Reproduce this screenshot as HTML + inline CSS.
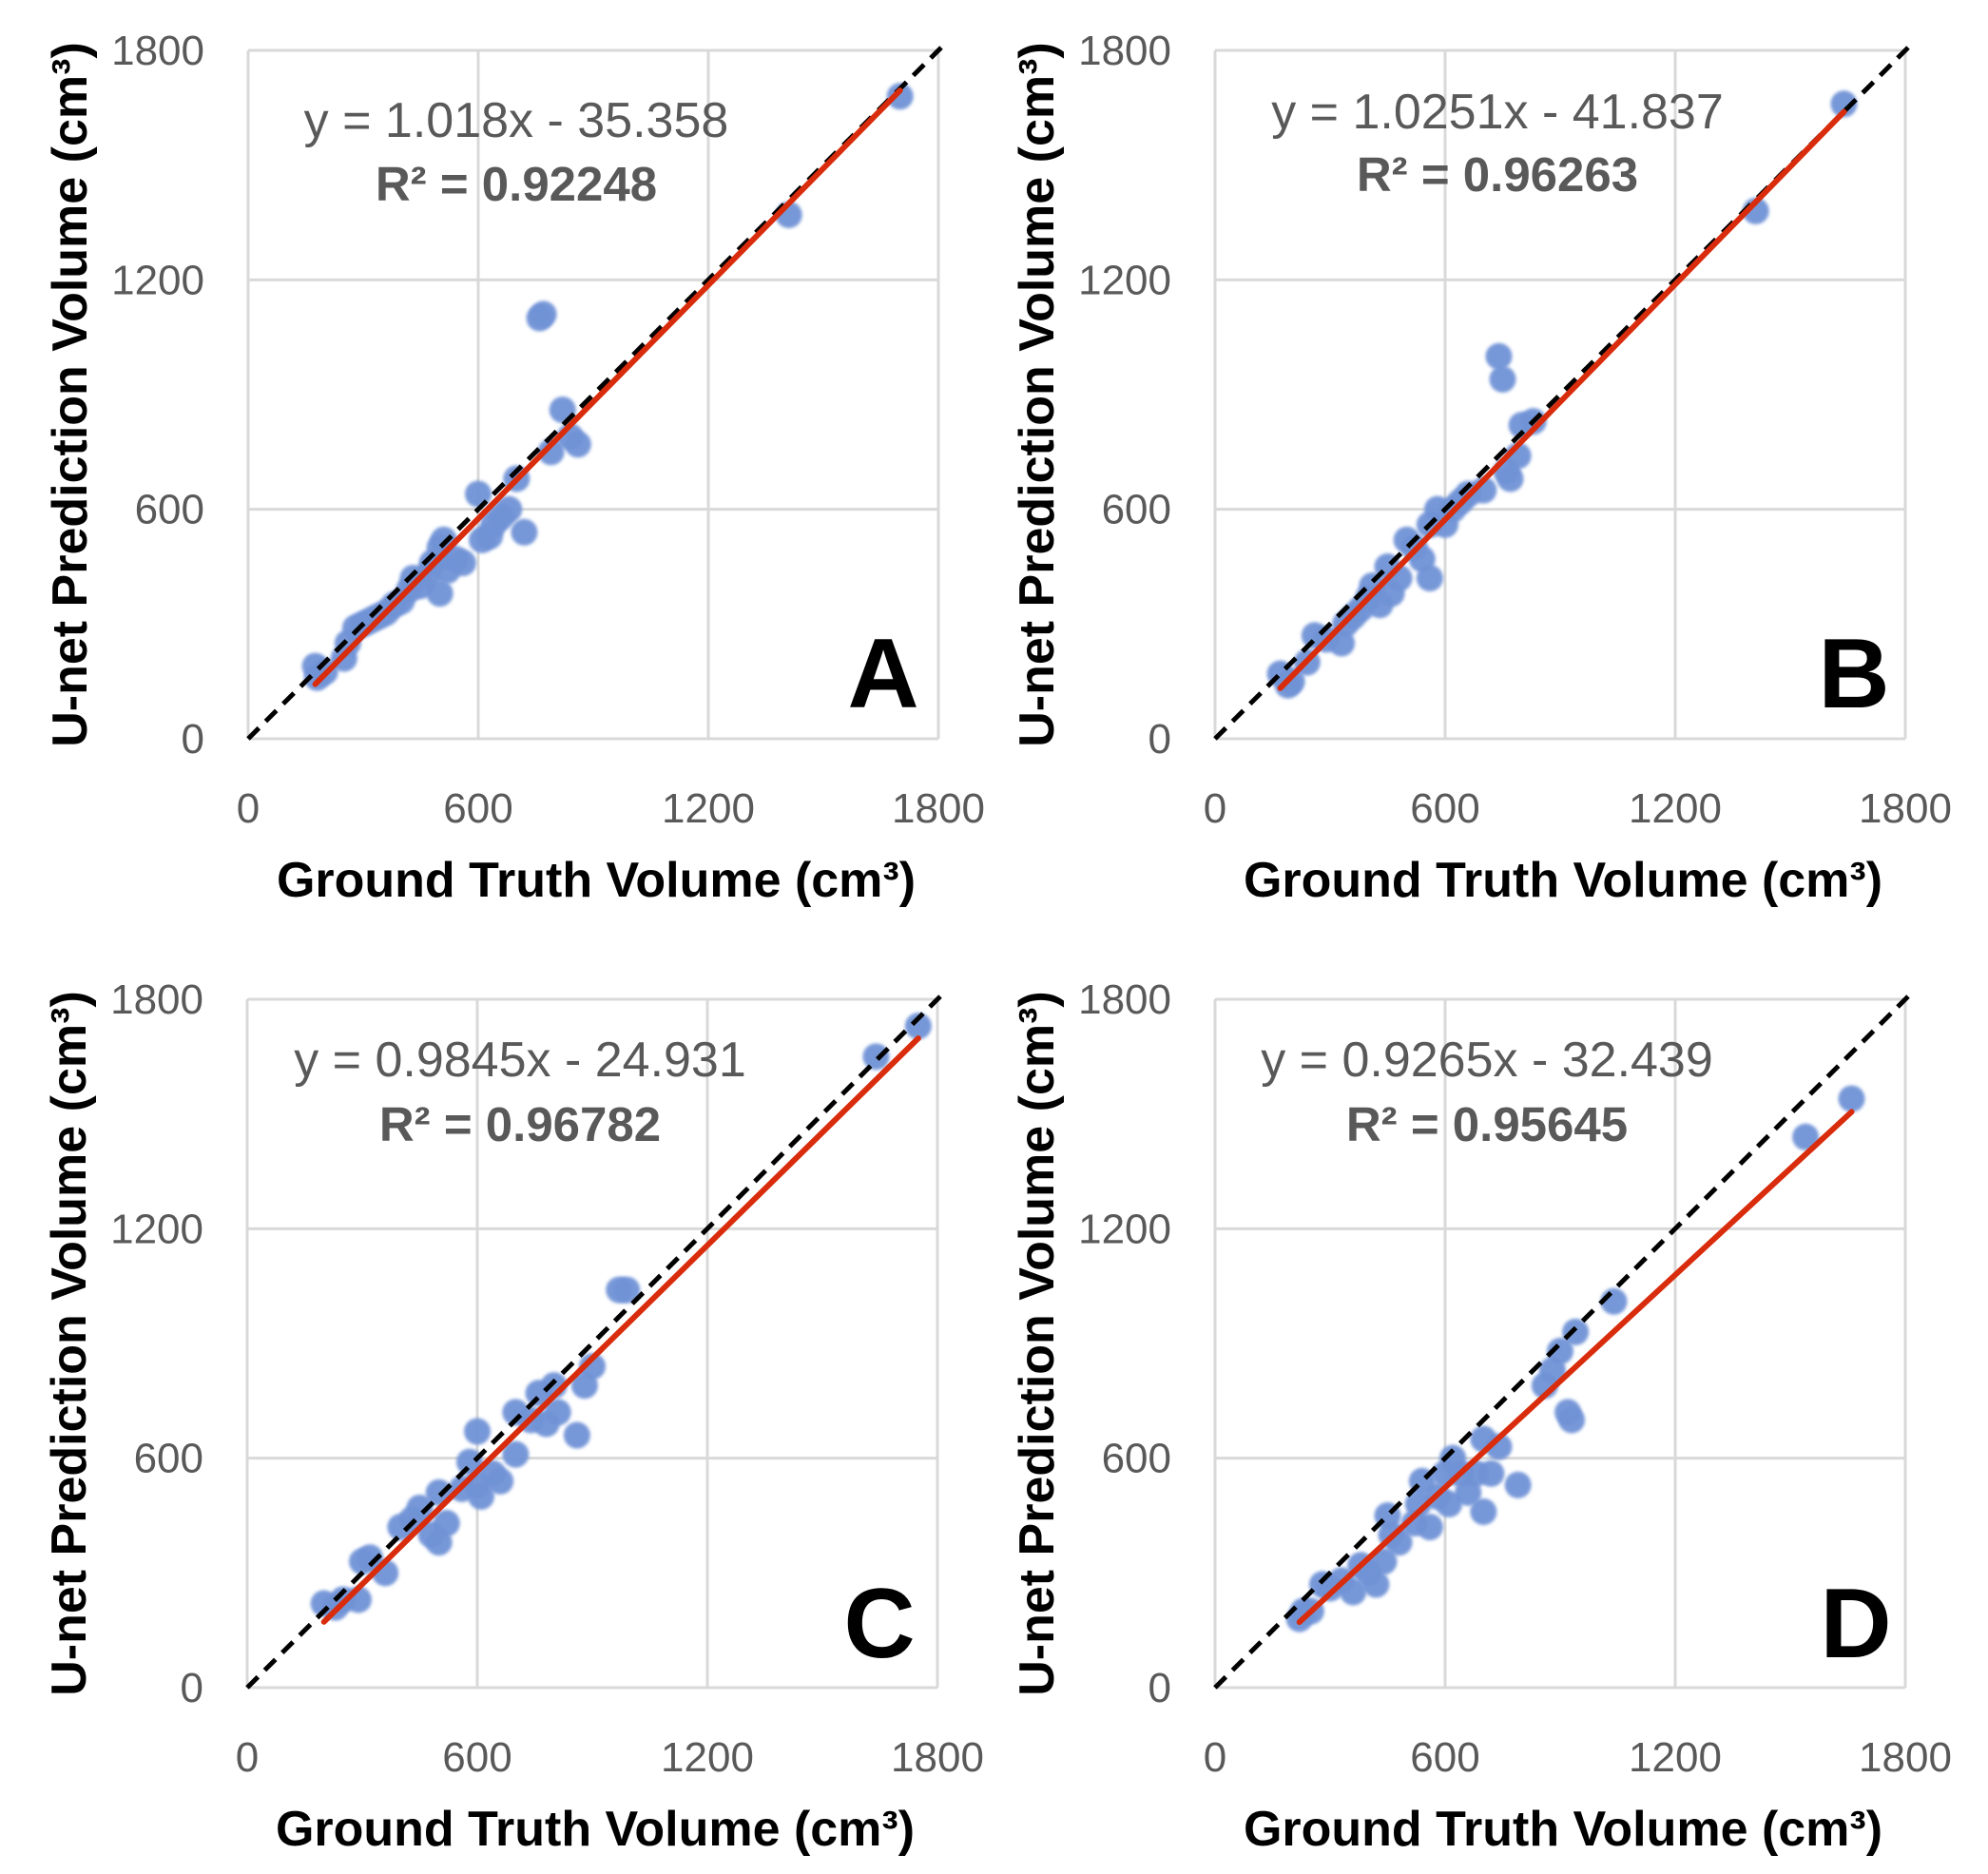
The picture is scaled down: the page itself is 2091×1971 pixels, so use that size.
<!DOCTYPE html>
<html><head><meta charset="utf-8"><style>
body{margin:0;background:#fff}
svg text{font-family:"Liberation Sans",sans-serif}
</style></head><body>
<svg id="fig" width="2091" height="1966" xmlns="http://www.w3.org/2000/svg">
<defs><filter id="soft" x="-20%" y="-20%" width="140%" height="140%"><feGaussianBlur stdDeviation="1.5"/></filter></defs>
</svg>
<script>
const ticks=[0,600,1200,1800];
const panelLabels=["A","B","C","D"];
const slopes=[1.018,1.0251,0.9845,0.9265];
const intercepts=[-35.358,-41.837,-24.931,-32.439];
const eqTexts=["y = 1.018x - 35.358","y = 1.0251x - 41.837","y = 0.9845x - 24.931","y = 0.9265x - 32.439"];
const r2Texts=["0.92248","0.96263","0.96782","0.95645"];
const xA=[175,180,200,250,260,280,300,320,340,360,380,400,420,430,450,470,480,500,510,500,520,540,560,600,610,630,640,660,680,700,720,760,770,790,820,840,860,1410,1700];
const yA=[190,160,175,210,250,290,300,310,320,330,350,360,390,420,400,430,460,500,520,380,440,470,460,640,520,530,560,580,600,680,540,1100,1110,750,860,790,770,1370,1680];
const xB=[170,190,200,240,260,290,330,340,360,380,400,410,430,450,460,480,500,520,540,560,560,580,600,620,640,660,700,740,750,760,770,790,800,830,1410,1640];
const yB=[170,140,150,200,270,260,250,300,320,340,370,400,350,450,380,420,520,500,470,420,560,600,560,600,620,640,650,1000,940,700,680,740,820,830,1380,1660];
const xC=[200,230,250,290,300,320,360,400,430,450,480,500,500,520,560,580,600,600,610,640,660,700,700,740,760,780,800,810,860,880,900,970,990,1640,1750];
const yC=[220,210,230,230,330,340,300,420,440,470,400,380,510,430,520,590,670,530,500,560,540,610,720,700,770,690,790,720,660,790,840,1040,1040,1650,1730];
const xD=[220,230,250,280,300,330,360,380,400,420,440,450,460,480,520,530,540,560,580,600,610,620,640,660,680,700,700,720,740,790,860,880,900,920,930,940,1040,1540,1660];
const yD=[180,200,200,270,260,280,250,320,300,270,330,450,400,380,430,480,540,420,500,560,480,600,560,510,560,460,650,560,630,530,790,830,880,720,700,930,1010,1440,1540];
const xsAll=[xA,xB,xC,xD], ysAll=[yA,yB,yC,yD];

const NS="http://www.w3.org/2000/svg";
const svg=document.getElementById('fig');
function mk(tag,attrs,parent){const e=document.createElementNS(NS,tag);for(const k in attrs)e.setAttribute(k,attrs[k]);(parent||svg).appendChild(e);return e;}
const W=726,H=724;
const origins=[[261,777],[1278,777],[260,1775],[1278,1775]];
const eqPos=[[543,127,194],[1575,118,184],[547,1115,1183],[1564,1115,1183]];
const letterPos=[[929,706],[1950,706],[925,1705],[1952,1705]];
for(let p=0;p<4;p++){
  const [ox,oy]=origins[p];
  const sx=v=>ox+v/1800*W, sy=v=>oy-v/1800*H;
  const g=mk('g',{});
  
  
  ticks.forEach(t=>{
    const gl=mk('line',{x1:sx(0),x2:sx(1800),y1:sy(t),y2:sy(t),stroke:'#d9d9d9','stroke-width':3},g);
    
    
    const vl=mk('line',{x1:sx(t),x2:sx(t),y1:sy(0),y2:sy(1800),stroke:'#d9d9d9','stroke-width':3},g);
    
    
    const yt=mk('text',{x:ox-46,y:sy(t)+15,'text-anchor':'end','font-size':44,fill:'#595959'},g);
    yt.textContent=t;
    
    
    const xt=mk('text',{x:sx(t),y:oy+88,'text-anchor':'middle','font-size':44,fill:'#595959'},g);
    xt.textContent=t;
    
    
  });
  const xs=xsAll[p], ys=ysAll[p];
  for(let i=0;i<xs.length;i++){
    const c=mk('circle',{cx:sx(xs[i]),cy:sy(ys[i]),r:14,fill:'#7092d6','fill-opacity':0.95,filter:'url(#soft)'},g);
    
    
  }
  const id=mk('line',{x1:sx(0),y1:sy(0),x2:sx(1800)+3,y2:sy(1800)-3,stroke:'#000','stroke-width':5,'stroke-dasharray':'16 10'},g);
  
  
  const x0=Math.min(...xs), x1=Math.max(...xs);
  const m=slopes[p], b=intercepts[p];
  const rl=mk('line',{x1:sx(x0),y1:sy(m*x0+b),x2:sx(x1),y2:sy(m*x1+b),stroke:'#d92c0c','stroke-width':6,'stroke-linecap':'round'},g);
  
  
  const [ex,ey,ry]=eqPos[p];
  const eq=mk('text',{x:ex,y:ey+17,'text-anchor':'middle','font-size':52,fill:'#595959'},g);
  eq.textContent=eqTexts[p];
  
  
  const r2=mk('text',{x:ex,y:ry+17,'text-anchor':'middle','font-size':51,'font-weight':'bold',fill:'#595959'},g);
  r2.textContent='R² = '+r2Texts[p];
  
  
  const L=mk('text',{x:letterPos[p][0],y:letterPos[p][1]+38,'text-anchor':'middle','font-size':104,'font-weight':'bold',fill:'#000'},g);
  L.textContent=panelLabels[p];
  
  
  const xtitle=mk('text',{x:ox+366,y:oy+166,'text-anchor':'middle','font-size':52,'font-weight':'bold',fill:'#000'},g);
  xtitle.textContent='Ground Truth Volume (cm³)';
  
  
  const tx=ox-170, ty=oy-362;
  const ytitle=mk('text',{x:tx,y:ty,'text-anchor':'middle','font-size':52,'font-weight':'bold',fill:'#000',transform:`rotate(-90 ${tx} ${ty})`},g);
  ytitle.textContent='U-net Prediction Volume (cm³)';
  
  
}
</script>
</body></html>
